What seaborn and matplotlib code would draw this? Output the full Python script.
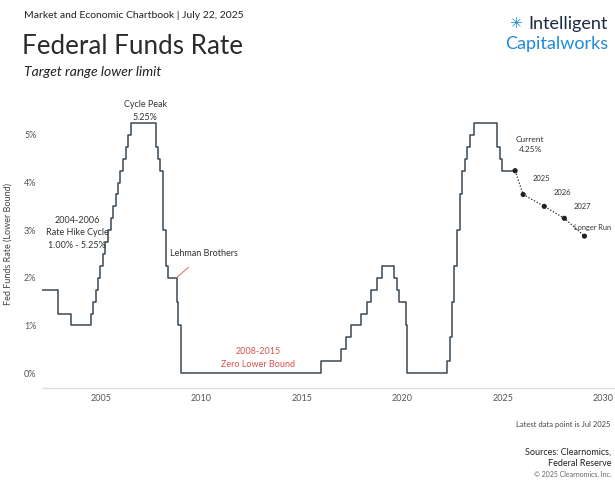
import pandas as pd
import numpy as np
import matplotlib
matplotlib.use('Agg')
import matplotlib.pyplot as plt
import seaborn as sns

# Fed funds target range, lower limit (date of change, new rate %)
change_dates = ['2002-01-01', '2002-11-06', '2003-06-25', '2004-06-30', '2004-08-10',
                '2004-09-21', '2004-11-10', '2004-12-14', '2005-02-02', '2005-03-22',
                '2005-05-03', '2005-06-30', '2005-08-09', '2005-09-20', '2005-11-01',
                '2005-12-13', '2006-01-31', '2006-03-28', '2006-05-10', '2006-06-29',
                '2007-09-18', '2007-10-31', '2007-12-11', '2008-01-22', '2008-01-30',
                '2008-03-18', '2008-04-30', '2008-10-08', '2008-10-29', '2008-12-16',
                '2015-12-16', '2016-12-14', '2017-03-15', '2017-06-14', '2017-12-13',
                '2018-03-21', '2018-06-13', '2018-09-26', '2018-12-19', '2019-07-31',
                '2019-09-18', '2019-10-30', '2020-03-03', '2020-03-15', '2022-03-16',
                '2022-05-04', '2022-06-15', '2022-07-27', '2022-09-21', '2022-11-02',
                '2022-12-14', '2023-02-01', '2023-03-22', '2023-05-03', '2023-07-26',
                '2024-09-18', '2024-11-07', '2024-12-18', '2025-07-22']
rates = [1.75, 1.25, 1.00, 1.25, 1.50,
         1.75, 2.00, 2.25, 2.50, 2.75,
         3.00, 3.25, 3.50, 3.75, 4.00,
         4.25, 4.50, 4.75, 5.00, 5.25,
         4.75, 4.50, 4.25, 3.50, 3.00,
         2.25, 2.00, 1.50, 1.00, 0.00,
         0.25, 0.50, 0.75, 1.00, 1.25,
         1.50, 1.75, 2.00, 2.25, 2.00,
         1.75, 1.50, 1.00, 0.00, 0.25,
         0.75, 1.50, 2.25, 3.00, 3.75,
         4.25, 4.50, 4.75, 5.00, 5.25,
         4.75, 4.50, 4.25, 4.25]

# FOMC projections
proj_labels = ['Current\n4.25%', '2025', '2026', '2027', 'Longer Run']
proj_x = [2025.6, 2026.0, 2027.05, 2028.05, 2029.05]
proj_rates = [4.25, 3.75, 3.50, 3.25, 2.875]

year_ticks = [2005, 2010, 2015, 2020, 2025, 2030]
pct_ticks = [0, 1, 2, 3, 4, 5]

d = pd.to_datetime(pd.Series(change_dates))
frac_year = d.dt.year + (d.dt.dayofyear - 1) / 365.25
df = pd.DataFrame({'year': frac_year, 'rate': rates})
proj = pd.DataFrame({'year': proj_x, 'rate': proj_rates})

sns.set_style('white')
plt.rcParams['font.family'] = ['Lato', 'DejaVu Sans']

fig = plt.figure(figsize=(6.15, 5.03), dpi=100)
ax = fig.add_axes([42 / 615, 115 / 503, 573 / 615, 288 / 503])

sns.lineplot(data=df, x='year', y='rate', drawstyle='steps-post',
             color='#3b4852', linewidth=1.1, ax=ax)
sns.lineplot(data=proj, x='year', y='rate', color='#222222', linewidth=0.9,
             linestyle=(0, (1, 1.5)), ax=ax)
sns.scatterplot(data=proj, x='year', y='rate', color='#222222', s=14,
                edgecolor='none', ax=ax, zorder=5)

ax.set_xlim(2002.06, 2030.57)
ax.set_ylim(-0.315, 5.735)
ax.set_xticks(year_ticks)
ax.set_xticklabels([str(y) for y in year_ticks], fontsize=6.5, color='#555555')
ax.set_yticks(pct_ticks)
ax.set_yticklabels([f'{p}%' for p in pct_ticks], fontsize=6.5, color='#555555')
ax.tick_params(axis='both', length=0, pad=4)
ax.set_xlabel('')
ax.set_ylabel('Fed Funds Rate (Lower Bound)', fontsize=6.5, color='#444444', labelpad=8)
for s in ['top', 'right', 'left']:
    ax.spines[s].set_visible(False)
ax.spines['bottom'].set_color('#dddddd')
ax.spines['bottom'].set_linewidth(1)
ax.grid(False)

# annotations
ann = dict(fontsize=6.5, color='#333333', ha='center', va='center')
ax.text(2007.2, 5.5, 'Cycle Peak\n5.25%', linespacing=1.5, **ann)
ax.text(2003.8, 2.95, '2004-2006\nRate Hike Cycle\n1.00% - 5.25%', linespacing=1.5, **ann)
ax.annotate('Lehman Brothers', xy=(2008.75, 2.0), xytext=(2010.1, 2.5),
            fontsize=6.5, color='#333333', ha='center', va='center',
            arrowprops=dict(arrowstyle='-', color='#d9534f', lw=0.6,
                            shrinkA=6, shrinkB=0))
ax.text(2012.8, 0.32, '2008-2015\nZero Lower Bound', linespacing=1.5,
        fontsize=6.5, color='#d9534f', ha='center', va='center')
offsets = [(0.75, 0.55), (0.45, 0.33), (0.45, 0.3), (0.45, 0.25), (1.35, 0.18)]
sizes = [6, 5.5, 5.5, 5.5, 5.3]
aligns = ['center', 'left', 'left', 'left', 'right']
for lab, x, y, (dx, dy), fs, ha in zip(proj_labels, proj_x, proj_rates, offsets, sizes, aligns):
    ax.text(x + dx, y + dy, lab, fontsize=fs, color='#333333', ha=ha, va='center',
            linespacing=1.5)

# header
fig.text(24 / 615, 1 - 16 / 503, 'Market and Economic Chartbook | July 22, 2025',
         fontsize=7.5, color='#222222', va='center')
fig.text(22 / 615, 1 - 46 / 503, 'Federal Funds Rate', fontsize=18.7,
         color='#2b2b2b', va='center')
fig.text(24 / 615, 1 - 72 / 503, 'Target range lower limit', fontsize=10,
         style='italic', color='#222222', va='center')
fig.text(1 - 7 / 615, 1 - 24 / 503, 'Intelligent', fontsize=13, color='#1c2a44',
         ha='right', va='center')
fig.text(1 - 7 / 615, 1 - 44 / 503, 'Capitalworks', fontsize=13, color='#1f8ad8',
         ha='right', va='center')
fig.text(516 / 615, 1 - 24 / 503, '\u2733', fontsize=11, color='#1f8ad8',
         ha='center', va='center', family='DejaVu Sans')

# footer
fig.text(1 - 4 / 615, 1 - 424 / 503, 'Latest data point is Jul 2025', fontsize=5.5,
         color='#444444', ha='right', va='center')
fig.text(1 - 4 / 615, 1 - 452 / 503, 'Sources: Clearnomics,', fontsize=6.5,
         color='#222222', ha='right', va='center')
fig.text(1 - 4 / 615, 1 - 463 / 503, 'Federal Reserve', fontsize=6.5,
         color='#222222', ha='right', va='center')
fig.text(1 - 4 / 615, 1 - 474 / 503, '\u00a9 2025 Clearnomics, Inc.', fontsize=5,
         color='#666666', ha='right', va='center')

fig.savefig('out.png', dpi=100)
